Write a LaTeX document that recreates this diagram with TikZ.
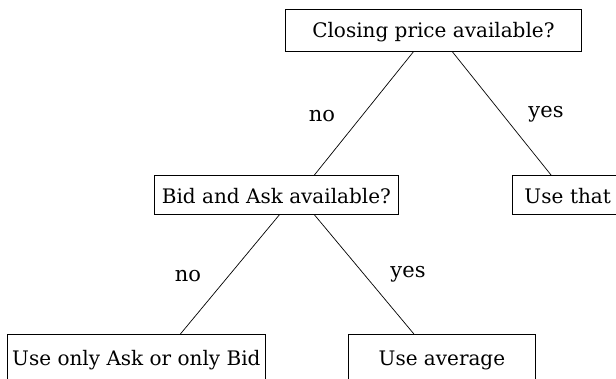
\documentclass[tikz,border=0pt]{standalone}
\usepackage{fontspec}
\setmainfont{DejaVu Serif}
\usetikzlibrary{calc}
\tikzset{
  box/.style={draw, line width=0.8pt, anchor=north west, inner sep=0pt, align=center,
    text height=19pt, font=\fontsize{20}{24}\selectfont},
  lbl/.style={anchor=base, inner sep=0pt, font=\fontsize{21}{25}\selectfont},
  edge/.style={line width=0.7pt}
}
\begin{document}
\begin{tikzpicture}[x=1pt,y=-1pt]
\useasboundingbox (0,0) rectangle (616,379);
\clip (0,0) rectangle (616,379);
\node[box, minimum width=296pt, minimum height=42pt, text depth=5.5pt] (top) at (285,9) {Closing price available?};
\node[box, minimum width=244pt, minimum height=39pt, text depth=2.5pt] (bid) at (154,175) {Bid and Ask available?};
\node[box, minimum width=150pt, minimum height=39pt, text depth=2.5pt, text width=126pt, align=left] (that) at (512,175) {Use that};
\node[box, minimum width=258pt, minimum height=50pt, text depth=7.5pt] (only) at (7,334) {Use only Ask or only Bid};
\node[box, minimum width=187pt, minimum height=50pt, text depth=7.5pt] (avg) at (348,334) {Use average};
\draw[edge] ($(top.south)+(-20,0)$) -- ($(bid.north)+(38,0)$);
\draw[edge] ($(top.south)+(19,0)$) -- ($(that.north west)+(39,0)$);
\draw[edge] ($(bid.south)+(3,0)$) -- ($(only.north)+(44,0)$);
\draw[edge] ($(bid.south)+(38,0)$) -- ($(avg.north)+(-28,0)$);
\node[lbl] (l1) at (322,122) {no};
\node[lbl] (l2) at (546,118) {yes};
\node[lbl] (l3) at (188,282) {no};
\node[lbl] (l4) at (408,278) {yes};
\end{tikzpicture}
\end{document}
